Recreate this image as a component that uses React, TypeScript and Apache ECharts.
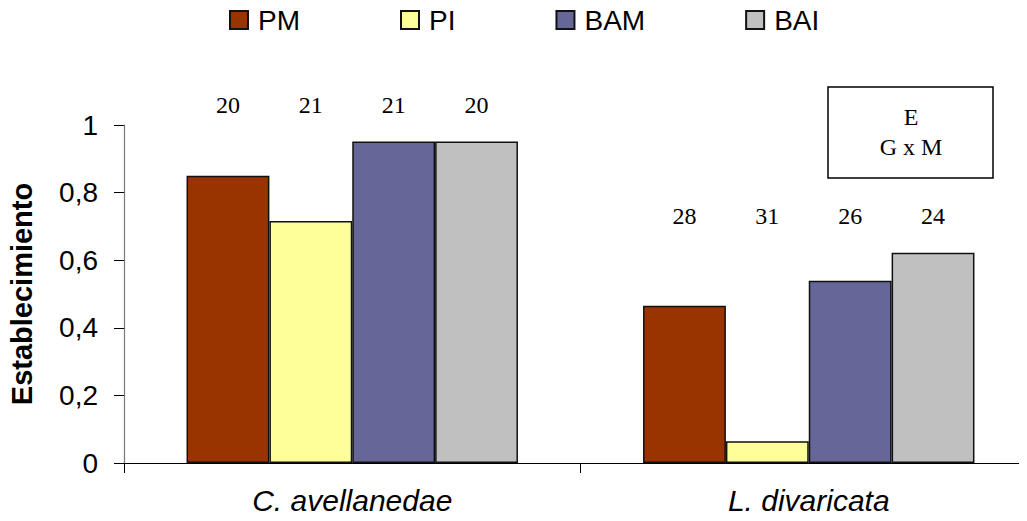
import React, { useEffect, useRef } from "react";
import * as echarts from "echarts";

// Species (x categories) and treatments (series)
const categories = ["C. avellanedae", "L. divaricata"];
const seriesNames = ["PM", "PI", "BAM", "BAI"];
const seriesColors = ["#993300", "#FFFF99", "#666699", "#C0C0C0"];

// Establishment proportion per treatment, one value per species
const pmValues = [0.85, 0.465];
const piValues = [0.716, 0.064];
const bamValues = [0.951, 0.539];
const baiValues = [0.951, 0.622];

// Sample sizes written above each bar (per species, in treatment order)
const nCavellanedae = [20, 21, 21, 20];
const nLdivaricata = [28, 31, 26, 24];

const yTicks = [0, 0.2, 0.4, 0.6, 0.8, 1];

const SANS = "'Liberation Sans', Arial, sans-serif";
const SERIF = "'Liberation Serif', 'Times New Roman', serif";
const CATEGORY_GAP = 0.274;

export default function App() {
  const ref = useRef<HTMLDivElement>(null);

  useEffect(() => {
    if (!ref.current) return;
    const chart = echarts.init(ref.current, undefined, { renderer: "svg" });

    const valueSets = [pmValues, piValues, bamValues, baiValues];
    const nSets = [nCavellanedae, nLdivaricata];

    // Label anchor rows: [category, bar index, n, tallest bar in the group]
    const labelRows: number[][] = [];
    nSets.forEach((ns, ci) => {
      const groupMax = Math.max(...valueSets.map((v) => v[ci]));
      ns.forEach((n, bi) => labelRows.push([ci, bi, n, groupMax]));
    });

    const barSeries = seriesNames.map((name, i) => ({
      name,
      type: "bar",
      data: valueSets[i],
      barGap: "0%",
      barCategoryGap: CATEGORY_GAP * 100 + "%",
      itemStyle: {
        color: seriesColors[i],
        borderColor: "#111",
        borderWidth: 1.5,
      },
    }));

    chart.setOption({
      animation: false,
      backgroundColor: "#fff",
      legend: {
        data: seriesNames,
        left: 229,
        top: 6,
        padding: 0,
        itemWidth: 18,
        itemHeight: 18,
        itemGap: 100,
        icon: "rect",
        textStyle: {
          fontFamily: SANS,
          fontSize: 28,
          color: "#000",
          padding: [0, 0, 0, 5],
        },
      },
      grid: {
        left: 124,
        top: 125,
        width: 913,
        height: 338,
        outerBoundsMode: "none",
      },
      xAxis: {
        type: "category",
        data: categories,
        axisLine: { lineStyle: { color: "#000", width: 1.2 } },
        axisTick: { show: true, length: 10, lineStyle: { color: "#000" } },
        axisLabel: {
          fontFamily: SANS,
          fontSize: 30,
          fontStyle: "italic",
          color: "#000",
          margin: 22,
        },
      },
      yAxis: {
        type: "value",
        min: 0,
        max: 1,
        interval: 0.2,
        name: "Establecimiento",
        nameLocation: "middle",
        nameGap: 88,
        nameTextStyle: {
          fontFamily: SANS,
          fontSize: 29,
          fontWeight: "bold",
          color: "#000",
        },
        splitLine: { show: false },
        axisLine: { show: true, lineStyle: { color: "#777", width: 1.2 } },
        axisTick: { show: true, length: 10, lineStyle: { color: "#000" } },
        axisLabel: {
          fontFamily: SANS,
          fontSize: 28,
          color: "#000",
          margin: 26,
          formatter: (v: number) =>
            yTicks.includes(v) ? String(v).replace(".", ",") : "",
        },
      },
      series: [
        ...barSeries,
        {
          type: "custom",
          clip: false,
          silent: true,
          data: labelRows,
          encode: { x: 0, y: 3 },
          renderItem: (_params: any, api: any) => {
            const ci = api.value(0);
            const bi = api.value(1);
            const n = api.value(2);
            const top = api.coord([ci, api.value(3)]);
            const band = api.size([1, 0])[0];
            const barW = (band * (1 - CATEGORY_GAP)) / seriesNames.length;
            const x = top[0] - (barW * seriesNames.length) / 2 + (bi + 0.5) * barW;
            return {
              type: "text",
              x,
              y: top[1] - 37,
              style: {
                text: String(n),
                fontFamily: SERIF,
                fontSize: 24,
                fill: "#000",
                align: "center",
                verticalAlign: "middle",
              },
            };
          },
        },
      ],
      graphic: [
        {
          type: "rect",
          shape: { x: 828, y: 87, width: 165, height: 91 },
          style: { fill: "#fff", stroke: "#000", lineWidth: 1.5 },
        },
        {
          type: "text",
          x: 911,
          y: 132,
          style: {
            text: "E\nG x M",
            fontFamily: SERIF,
            fontSize: 24,
            lineHeight: 30,
            fill: "#000",
            align: "center",
            verticalAlign: "middle",
          },
        },
      ],
    });

    return () => chart.dispose();
  }, []);

  return <div ref={ref} style={{ width: 1027, height: 521, margin: -8 }} />;
}
